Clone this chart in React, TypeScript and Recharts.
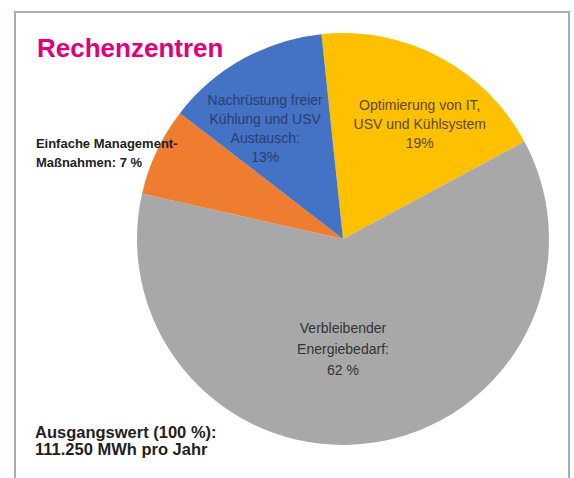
import { PieChart, Pie, Cell } from "recharts";

// slices clockwise from the top
const sliceNames = [
  "Optimierung von IT, USV und Kühlsystem",
  "Verbleibender Energiebedarf",
  "Einfache Management-Maßnahmen",
  "Nachrüstung freier Kühlung und USV Austausch",
];
const shares = [19, 62, 7, 13];
const labelLines = [
  ["Optimierung von IT,", "USV und Kühlsystem", "19%"],
  ["Verbleibender", "Energiebedarf:", "62 %"],
  ["Einfache Management-", "Maßnahmen: 7 %"],
  ["Nachrüstung freier", "Kühlung und USV", "Austausch:", "13%"],
];
const title = "Rechenzentren";
const footLines = ["Ausgangswert (100 %):", "111.250 MWh pro Jahr"];

const colors = ["#ffc000", "#a8a8a8", "#ef7d30", "#4472c4"];

// label block placement, polar around the pie centre
const labelStyle = [
  { r: 138, a: 56.2, anchor: "middle", color: "#5a4915", size: 14, weight: 400, lh: 19 },
  { r: 110, a: -90, anchor: "middle", color: "#333333", size: 14, weight: 400, lh: 21 },
  { r: 319, a: 164.3, anchor: "start", color: "#222222", size: 13, weight: 700, lh: 19 },
  { r: 135, a: 125.2, anchor: "middle", color: "#2b3e6c", size: 14, weight: 400, lh: 19 },
];

const data = sliceNames.map((name, i) => ({ name, value: shares[i] }));

const RAD = Math.PI / 180;

const renderLabel = (props: any) => {
  const { cx, cy, index } = props;
  const s = labelStyle[index];
  const lines = labelLines[index];
  const x = cx + s.r * Math.cos(s.a * RAD);
  const y = cy - s.r * Math.sin(s.a * RAD);
  const y0 = y - ((lines.length - 1) * s.lh) / 2;
  return (
    <g key={"lbl" + index}>
      {lines.map((t, j) => (
        <text
          key={j}
          x={x}
          y={y0 + j * s.lh}
          textAnchor={s.anchor as any}
          dominantBaseline="central"
          fill={s.color}
          fontSize={s.size}
          fontWeight={s.weight}
          fontFamily="'Liberation Sans', Arial, sans-serif"
        >
          {t}
        </text>
      ))}
    </g>
  );
};

export default function App() {
  return (
    <div
      style={{
        position: "absolute",
        left: 0,
        top: 0,
        width: 574,
        height: 478,
        background: "#fff",
        overflow: "hidden",
        fontFamily: "'Liberation Sans', Arial, sans-serif",
      }}
    >
      <div
        style={{
          position: "absolute",
          left: 14,
          top: 11,
          width: 552,
          height: 500,
          borderLeft: "2px solid #a3adb5",
          borderTop: "2px solid #a3adb5",
          borderRight: "2px solid #a3adb5",
        }}
      />
      <PieChart
        width={574}
        height={478}
        margin={{ top: 0, right: 0, bottom: 0, left: 0 }}
        style={{ position: "absolute", left: 0, top: 0 }}
      >
        <Pie
          data={data}
          dataKey="value"
          nameKey="name"
          cx={343}
          cy={239}
          outerRadius={206}
          startAngle={96}
          endAngle={-264}
          stroke="none"
          labelLine={false}
          label={renderLabel}
          isAnimationActive={false}
        >
          {data.map((d, i) => (
            <Cell key={d.name} fill={colors[i]} />
          ))}
        </Pie>
      </PieChart>
      <div
        style={{
          position: "absolute",
          left: 37,
          top: 31,
          fontSize: 26,
          fontWeight: 700,
          color: "#e2007a",
          lineHeight: "34px",
        }}
      >
        {title}
      </div>
      <div
        style={{
          position: "absolute",
          left: 35,
          top: 424,
          fontSize: 16.5,
          fontWeight: 700,
          color: "#222",
          lineHeight: "17px",
        }}
      >
        {footLines.map((t) => (
          <div key={t}>{t}</div>
        ))}
      </div>
    </div>
  );
}
